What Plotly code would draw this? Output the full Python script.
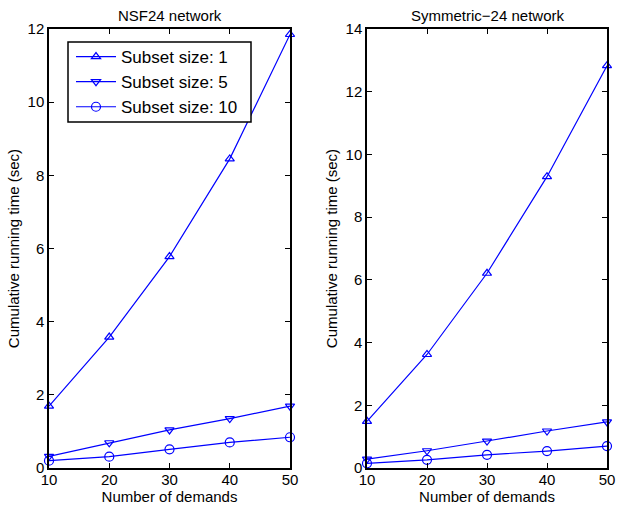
import plotly.graph_objects as go
from plotly.subplots import make_subplots

demands = [10, 20, 30, 40, 50]

# NSF24 network
nsf_s1 = [1.69, 3.58, 5.78, 8.45, 11.85]
nsf_s5 = [0.32, 0.69, 1.04, 1.35, 1.69]
nsf_s10 = [0.20, 0.31, 0.51, 0.70, 0.84]

# Symmetric-24 network
sym_s1 = [1.49, 3.62, 6.21, 9.29, 12.83]
sym_s5 = [0.28, 0.55, 0.86, 1.18, 1.47]
sym_s10 = [0.15, 0.26, 0.42, 0.54, 0.70]

series_names = ["Subset size: 1", "Subset size: 5", "Subset size: 10"]
symbols = ["triangle-up-open", "triangle-down-open", "circle-open"]
marker_sizes = [8, 8, 9]

BLUE = "rgb(0,0,255)"
FONT = "Liberation Sans, Arial, Helvetica, sans-serif"
W, H = 618, 506

fig = make_subplots(rows=1, cols=2)

panels = [(1, [nsf_s1, nsf_s5, nsf_s10]), (2, [sym_s1, sym_s5, sym_s10])]
for col, data in panels:
    for name, sym, msize, vals in zip(series_names, symbols, marker_sizes, data):
        fig.add_trace(
            go.Scatter(
                x=demands, y=vals, name=name, mode="lines+markers",
                line=dict(color=BLUE, width=1.2),
                marker=dict(symbol=sym, size=msize, color=BLUE,
                            line=dict(color=BLUE, width=1.2)),
                showlegend=(col == 1), cliponaxis=False,
            ),
            row=1, col=col,
        )

axis_style = dict(
    showline=True, linecolor="black", linewidth=1.5, mirror="ticks",
    ticks="inside", ticklen=5, tickcolor="black", tickwidth=1,
    showgrid=False, zeroline=False, automargin=False,
    tickfont=dict(family=FONT, size=15, color="black"),
)

fig.update_xaxes(axis_style, range=[10, 50], tickvals=demands,
                 ticklabelstandoff=-3,
                 title=dict(text="Number of demands", standoff=3,
                            font=dict(family=FONT, size=15, color="black")))
fig.update_yaxes(axis_style,
                 title=dict(text="Cumulative running time (sec)", standoff=4,
                            font=dict(family=FONT, size=15, color="black")))

fig.update_xaxes(domain=[49 / W, 290 / W], row=1, col=1)
fig.update_xaxes(domain=[367 / W, 607 / W], row=1, col=2)
fig.update_yaxes(domain=[1 - 468 / H, 1 - 29 / H])
fig.update_yaxes(range=[0, 12], dtick=2, row=1, col=1)
fig.update_yaxes(range=[0, 14], dtick=2, row=1, col=2)

# Opaque framed box behind the legend entries
fig.add_shape(
    type="rect", xref="paper", yref="paper",
    x0=68 / W, x1=251 / W, y0=1 - 122 / H, y1=1 - 42 / H,
    line=dict(color="black", width=1.5), fillcolor="white", layer="above",
)

fig.update_layout(
    width=W, height=H,
    margin=dict(l=0, r=0, t=0, b=0, autoexpand=False),
    paper_bgcolor="white", plot_bgcolor="white",
    font=dict(family=FONT, color="black"),
    legend=dict(
        x=71 / W, y=1 - 39 / H, xanchor="left", yanchor="top",
        xref="paper", yref="paper",
        borderwidth=0, bgcolor="rgba(0,0,0,0)",
        font=dict(family=FONT, size=17, color="black"),
        itemwidth=40, tracegroupgap=0,
    ),
    annotations=[
        dict(text="NSF24 network", x=(49 + 290) / 2 / W, y=1 - 15 / H,
             xref="paper", yref="paper", showarrow=False,
             xanchor="center", yanchor="middle",
             font=dict(family=FONT, size=15, color="black")),
        dict(text="Symmetric\u221224 network", x=(367 + 607) / 2 / W,
             y=1 - 15 / H, xref="paper", yref="paper", showarrow=False,
             xanchor="center", yanchor="middle",
             font=dict(family=FONT, size=15, color="black")),
    ],
)

fig.write_html("out.html")
